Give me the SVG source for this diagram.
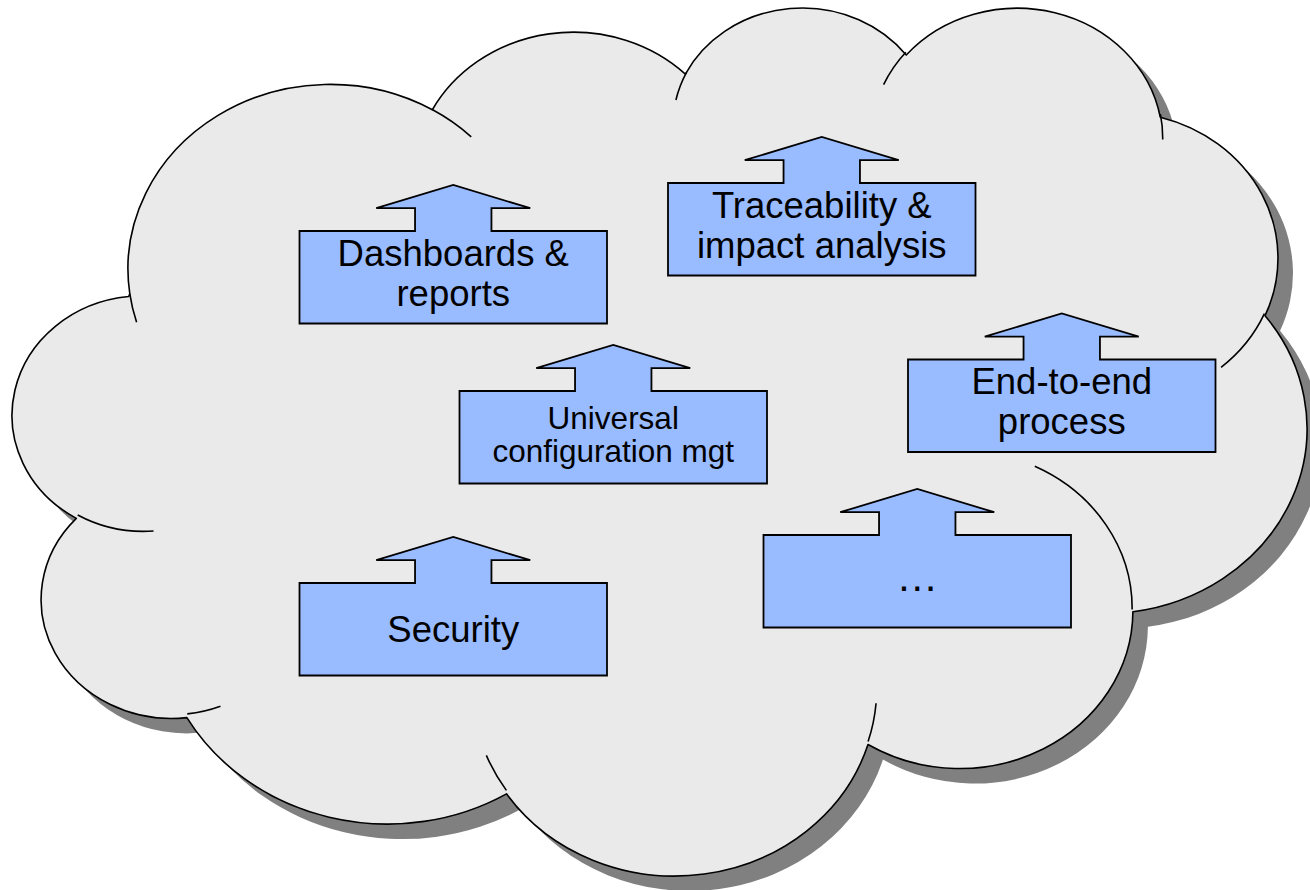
<svg xmlns="http://www.w3.org/2000/svg" width="1310" height="890" viewBox="0 0 1310 890">
<style>
.shadow{fill:#808080;stroke:none}
.cloud{fill:#eaeaea;stroke:#000;stroke-width:1.6;stroke-linejoin:round}
.stub{fill:none;stroke:#000;stroke-width:1.6}
.box{fill:#99bbff;stroke:#000;stroke-width:1.8}
.lbl{font-family:"Liberation Sans",Arial,sans-serif;font-size:36.5px;fill:#000;text-anchor:middle}
.sm{font-size:31.5px}
</style>
<defs>
<path id="cloudPath" d="M129.81,293.85 A202.17,184.58 0 0 1 432.35,109.73 A159.66,145.96 0 0 1 685.36,74.12 A130.68,119.41 0 0 1 906.23,55.02 A145.41,132.46 0 0 1 1160.26,117.19 A159.66,146.08 0 0 1 1265.05,315.71 A202.83,185.18 0 0 1 1132.90,611.81 A173.19,158.01 0 0 1 867.99,744.57 A202.14,185.08 0 0 1 506.50,793.83 A231.12,211.76 0 0 1 186.87,717.62 A130.53,118.86 0 0 1 76.34,518.35 A130.08,119.41 0 0 1 128.73,296.54 Z"/>
<path id="arrowBox" d="M0,0 H115.55 V-22.8 H76.75 L153.75,-46 L230.75,-22.8 H191.95 V0 H307.5 V92.5 H0 Z"/>
</defs>
<g id="cloud">
<use href="#cloudPath" class="shadow" transform="translate(15,15)"/>
<use href="#cloudPath" class="cloud"/>
<path class="stub" d="M153.55,531.00 A130.08,119.41 0 0 1 77.71,514.99 M220.46,706.18 A130.53,118.86 0 0 1 187.27,713.84 M506.37,790.35 A202.14,185.08 0 0 1 486.36,755.37 M876.07,703.20 A202.14,185.08 0 0 1 868.09,741.55 M1034.80,466.26 A173.19,158.01 0 0 1 1132.14,609.58 M1264.40,313.62 A159.66,146.08 0 0 1 1221.07,367.34 M1160.39,114.21 A145.41,132.46 0 0 1 1162.68,139.59 M883.59,84.61 A145.41,132.46 0 0 1 905.81,52.20 M675.91,100.03 A130.68,119.41 0 0 1 686.66,72.12 M432.18,109.51 A202.17,184.58 0 0 1 471.24,136.79 M136.60,322.35 A202.17,184.58 0 0 1 129.82,293.87"/>
</g>
<g id="dashboards" transform="translate(299.5,231)">
<use href="#arrowBox" class="box"/>
<text class="lbl" x="153.75" y="34.5">Dashboards &amp;</text>
<text class="lbl" x="153.75" y="74.5">reports</text>
</g>
<g id="traceability" transform="translate(668,183)">
<use href="#arrowBox" class="box"/>
<text class="lbl" x="153.75" y="34.5">Traceability &amp;</text>
<text class="lbl" x="153.75" y="74.5">impact analysis</text>
</g>
<g id="universal" transform="translate(459.5,391)">
<use href="#arrowBox" class="box"/>
<text class="lbl sm" x="153.75" y="37.5">Universal</text>
<text class="lbl sm" x="153.75" y="71">configuration mgt</text>
</g>
<g id="endtoend" transform="translate(908,359.5)">
<use href="#arrowBox" class="box"/>
<text class="lbl" x="153.75" y="34.5">End-to-end</text>
<text class="lbl" x="153.75" y="74.5">process</text>
</g>
<g id="more" transform="translate(763.5,535)">
<use href="#arrowBox" class="box"/>
<text class="lbl" x="153.75" y="55.5" style="font-size:42px">…</text>
</g>
<g id="security" transform="translate(299.5,583)">
<use href="#arrowBox" class="box"/>
<text class="lbl" x="153.75" y="59.3">Security</text>
</g>
</svg>
